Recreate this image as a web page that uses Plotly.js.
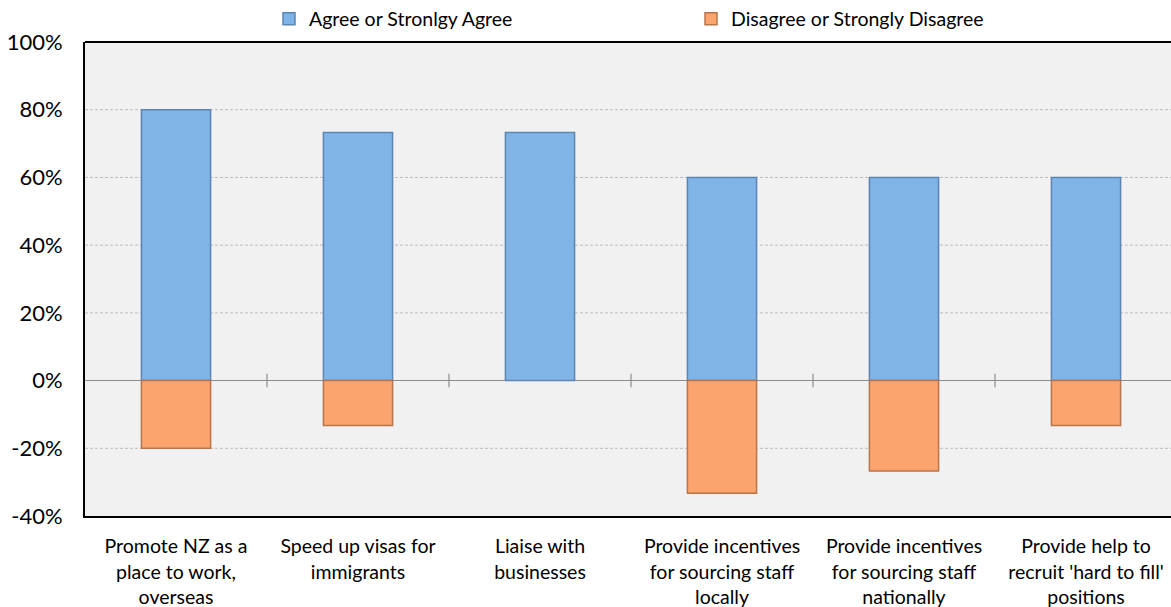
<!DOCTYPE html>
<html>
<head>
<meta charset="utf-8">
<script src="https://cdn.plot.ly/plotly-3.0.1.min.js"></script>
<style>html,body{margin:0;padding:0;background:#fff;}#chart{width:1171px;height:607px;}</style>
</head>
<body>
<div id="chart"></div>
<script>
const categories = [
  "Promote NZ as a<br>place to work,<br>overseas",
  "Speed up visas for<br>immigrants",
  "Liaise with<br>businesses",
  "Provide incentives<br>for sourcing staff<br>locally",
  "Provide incentives<br>for sourcing staff<br>nationally",
  "Provide help to<br>recruit 'hard to fill'<br>positions"
];
const agreeName = "Agree or Stronlgy Agree";
const disagreeName = "Disagree or Strongly Disagree";
const agreeValues = [80, 73.3, 73.3, 60, 60, 60];
const disagreeValues = [-20, -13.3, 0, -33.3, -26.7, -13.3];
const yTickValues = [-40, -20, 0, 20, 40, 60, 80, 100];
const yTickLabels = ["-40%", "-20%", "0%", "20%", "40%", "60%", "80%", "100%"];

const FONT = "Lato, 'Open Sans', sans-serif";
const idx = categories.map((_, i) => i);
const nz = arr => arr.map(v => (v === 0 ? null : v));

const traces = [
  {
    type: "bar", name: agreeName, x: idx, y: nz(agreeValues),
    marker: {color: "#80B4E6", line: {color: "#5B86B3", width: 1.5}},
    width: 0.38, hoverinfo: "y"
  },
  {
    type: "bar", name: disagreeName, x: idx, y: nz(disagreeValues),
    marker: {color: "#FCA46E", line: {color: "#B8754C", width: 1.5}},
    width: 0.38, hoverinfo: "y"
  }
];

const shapes = [];
for (let i = 1; i < categories.length; i++) {
  shapes.push({type: "line", xref: "x", yref: "y", x0: i - 0.5, x1: i - 0.5, y0: -2, y1: 2,
    line: {color: "#8C8C8C", width: 1.2}, layer: "above"});
}
yTickValues.filter(v => v !== 0 && v !== 100 && v !== -40).forEach(v => {
  shapes.push({type: "line", xref: "paper", yref: "y", x0: 0, x1: 1, y0: v, y1: v,
    line: {color: "#BDBDBD", width: 1, dash: "3px,2px"}, layer: "below"});
});
shapes.push({type: "line", xref: "paper", yref: "paper", x0: 0, x1: 1, y0: 1, y1: 1,
  line: {color: "#000", width: 2}});

const layout = {
  width: 1171, height: 607,
  margin: {l: 85, r: 0, t: 42, b: 91},
  paper_bgcolor: "#FFFFFF",
  plot_bgcolor: "#F1F1F1",
  barmode: "relative",
  showlegend: true,
  legend: {
    orientation: "h",
    xref: "container", yref: "container",
    x: 269 / 1171, xanchor: "left",
    y: 1 - 19 / 607, yanchor: "middle",
    bgcolor: "rgba(0,0,0,0)",
    font: {family: FONT, size: 19.5, color: "#000"},
    traceorder: "normal", itemwidth: 30, entrywidth: 377
  },
  font: {family: FONT, color: "#000"},
  xaxis: {
    range: [-0.5, 5.467],
    tickvals: idx, ticktext: categories,
    tickfont: {family: FONT, size: 19.5, color: "#000"},
    ticklabelstandoff: 12,
    showgrid: false, zeroline: false,
    showline: true, linecolor: "#000", linewidth: 2,
    ticks: "", fixedrange: true
  },
  yaxis: {
    range: [-40, 100],
    tickvals: yTickValues, ticktext: yTickLabels,
    tickfont: {family: FONT, size: 22, color: "#000"},
    ticklabelstandoff: 16,
    showgrid: false,
    zeroline: true, zerolinecolor: "#8C8C8C", zerolinewidth: 1.2,
    showline: true, linecolor: "#000", linewidth: 2,
    ticks: "", fixedrange: true
  },
  shapes: shapes
};

Plotly.newPlot("chart", traces, layout, {displayModeBar: false, staticPlot: true});
</script>
</body>
</html>
